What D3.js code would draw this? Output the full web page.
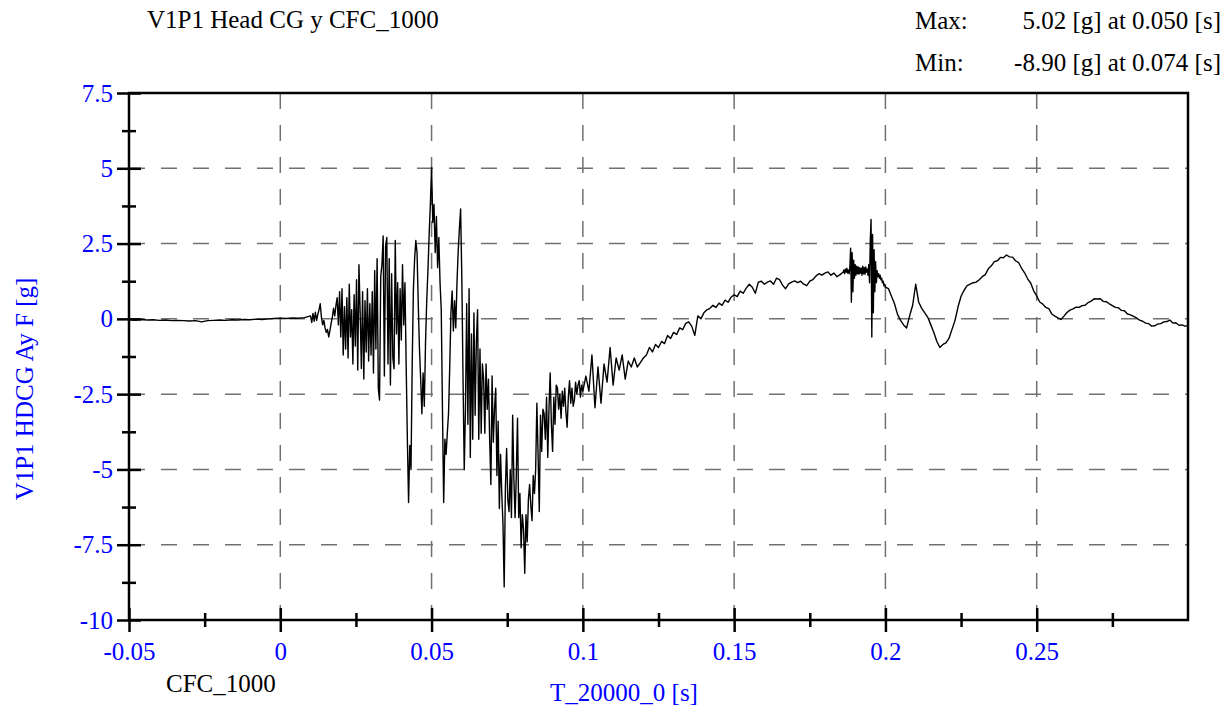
<!DOCTYPE html>
<html>
<head>
<meta charset="utf-8">
<script src="https://cdn.jsdelivr.net/npm/d3@7/dist/d3.min.js"></script>
<style>
  html, body { margin: 0; padding: 0; background: #fff; }
  svg { display: block; }
  text { font-family: "Liberation Serif", "Times New Roman", serif; }
</style>
</head>
<body>
<svg id="chart" width="1231" height="711"></svg>
<script>
// ---------------- data ----------------
const chartTitle = "V1P1 Head CG y CFC_1000";
const yAxisTitle = "V1P1 HDCG Ay F [g]";
const xAxisTitle = "T_20000_0 [s]";
const filterLabel = "CFC_1000";
const statNames = ["Max:", "Min:"];
const statTexts = ["5.02 [g] at 0.050 [s]", "-8.90 [g] at 0.074 [s]"];

const xTickValues = [-0.05, 0, 0.05, 0.1, 0.15, 0.2, 0.25];
const xTickLabels = ["-0.05", "0", "0.05", "0.1", "0.15", "0.2", "0.25"];
const xMinorTicks = [-0.025, 0.025, 0.075, 0.125, 0.175, 0.225, 0.275];
const yTickValues = [7.5, 5, 2.5, 0, -2.5, -5, -7.5, -10];
const yTickLabels = ["7.5", "5", "2.5", "0", "-2.5", "-5", "-7.5", "-10"];
const yMinorTicks = [6.25, 3.75, 1.25, -1.25, -3.75, -6.25, -8.75];
const xGridValues = [0, 0.05, 0.1, 0.15, 0.2, 0.25];
const yGridValues = [5, 2.5, 0, -2.5, -5, -7.5];

// acceleration [g]; sampled -50 .. 8 ms every 2 ms
const preImpactG = [
  -0.03,-0.05,-0.02,-0.04,-0.03,-0.05,-0.04,-0.06,-0.05,-0.06,
  -0.07,-0.06,-0.10,-0.06,-0.05,-0.04,-0.05,-0.03,-0.04,-0.02,
  -0.03,-0.01,-0.02,0.00,0.01,0.02,0.01,0.03,0.02,0.04
];
// 10 .. 100 ms every 0.4 ms
const impactG = [
  0.10,-0.12,0.18,-0.08,0.22,-0.05,0.15,0.30,0.50,0.05,
  -0.20,-0.05,-0.30,-0.45,-0.35,-0.60,-0.40,-0.15,0.05,0.35,
  0.10,0.45,0.70,-0.20,0.90,-0.60,1.00,-1.20,0.40,-1.00,
  0.70,-1.30,1.15,-0.60,0.30,-1.50,0.80,-0.90,1.30,-1.70,
  1.80,0.20,-1.65,0.90,-2.00,0.60,-1.10,1.00,-1.40,0.50,
  -1.20,0.90,-1.80,1.60,-1.00,2.00,-2.30,-2.70,1.40,1.80,
  2.75,-1.90,2.40,2.70,-1.50,2.00,-2.20,1.50,-1.30,-1.66,
  2.60,-0.50,1.20,-1.50,1.00,-0.70,1.80,-0.20,1.20,-1.50,
  -4.00,-6.10,-4.20,-5.00,-1.50,1.00,2.00,2.60,2.20,0.50,
  -1.00,-2.00,-3.15,-1.80,-2.90,-0.80,0.60,1.60,2.80,3.80,
  5.02,3.20,3.80,2.20,3.40,1.70,2.70,1.20,0.30,-3.00,
  -6.10,-4.00,-4.50,-3.80,-3.15,-1.60,0.20,0.93,-0.40,0.60,
  -0.30,1.20,2.25,3.00,3.65,1.35,-2.00,-5.00,-3.00,0.50,
  -3.50,1.00,-4.60,-0.50,-4.00,0.20,-3.20,-0.80,0.30,-4.00,
  -1.00,-3.80,-1.50,-2.00,-3.80,-1.50,-3.00,-2.00,-4.00,-5.50,
  -1.90,-4.10,-3.00,-2.30,-5.20,-3.40,-6.30,-4.50,-5.80,-6.80,
  -8.90,-5.60,-4.30,-6.00,-6.40,-5.00,-6.60,-3.20,-5.30,-6.60,
  -5.20,-3.30,-6.60,-5.80,-7.60,-6.50,-7.00,-8.45,-6.50,-7.40,
  -6.00,-5.50,-6.20,-6.70,-5.20,-5.80,-5.00,-2.80,-4.50,-6.40,
  -3.20,-4.40,-3.00,-3.15,-4.00,-2.60,-4.60,-3.00,-1.80,-3.50,
  -4.40,-2.60,-3.50,-2.20,-2.30,-3.00,-2.50,-3.30,-2.40,-2.90,
  -2.30,-3.10,-3.60,-2.60,-2.05,-2.80,-2.30,-2.90,-2.70,-2.10,
  -2.50,-2.20,-2.05,-2.60,-2.20,-2.40
];
// 101 .. 185 ms every 1 ms
const recoveryG = [
  -1.90,-2.40,-1.20,-2.95,-1.60,-2.80,-1.50,-2.10,-0.95,-2.20,
  -1.30,-1.70,-1.20,-2.00,-1.40,-1.60,-1.30,-1.60,-1.45,-1.30,
  -1.20,-0.95,-1.10,-0.85,-0.95,-0.75,-0.82,-0.55,-0.65,-0.45,
  -0.52,-0.30,-0.36,-0.15,-0.10,-0.25,-0.55,0.10,0.00,0.20,
  0.30,0.35,0.45,0.38,0.52,0.45,0.62,0.55,0.72,0.80,
  0.74,0.92,0.85,1.02,1.15,1.05,0.85,1.22,1.25,1.15,
  1.22,1.26,1.15,1.35,1.30,1.12,1.00,1.16,1.22,1.26,
  1.20,1.25,1.15,1.10,1.25,1.30,1.42,1.50,1.45,1.52,
  1.56,1.45,1.52,1.40,1.47
];
// 186 .. 200 ms every 0.25 ms
const reboundG = [
  1.55,1.62,1.50,1.65,1.55,1.68,1.52,1.62,1.50,1.70,
  2.35,0.55,2.20,0.90,1.95,1.35,1.80,1.45,1.75,1.50,
  1.72,1.48,1.70,1.52,1.68,1.45,1.75,1.50,1.70,1.48,
  1.72,1.55,1.65,1.45,1.80,1.20,2.60,3.30,-0.60,2.80,
  0.20,2.30,0.90,1.90,1.20,1.60,1.40,1.50,1.35,1.45,
  1.30,1.35,1.20,1.25,1.10,1.15,1.05
];
// 201 .. 300 ms every 1 ms
const tailG = [
  1.00,0.75,0.50,0.15,-0.05,-0.20,-0.30,0.10,0.45,1.15,
  0.55,0.35,0.20,0.05,-0.20,-0.45,-0.75,-0.95,-0.85,-0.80,
  -0.65,-0.35,-0.05,0.40,0.75,0.95,1.10,1.15,1.20,1.22,
  1.30,1.40,1.47,1.66,1.76,1.90,1.93,2.04,2.03,2.12,
  2.06,2.05,1.93,1.87,1.68,1.53,1.33,1.19,0.93,0.76,
  0.56,0.49,0.38,0.34,0.16,0.09,0.03,-0.02,0.09,0.21,
  0.29,0.33,0.39,0.38,0.44,0.45,0.54,0.59,0.67,0.66,
  0.67,0.58,0.57,0.50,0.44,0.38,0.37,0.28,0.27,0.16,
  0.13,0.08,0.03,-0.04,-0.08,-0.14,-0.16,-0.24,-0.23,-0.17,
  -0.16,-0.10,-0.09,-0.04,-0.14,-0.13,-0.21,-0.20,-0.24,-0.23
];

// sampling table: start time [ms], step [ms]
const segments = [
  { start: -50, step: 2,    values: preImpactG },
  { start: 10,  step: 0.4,  values: impactG },
  { start: 101, step: 1,    values: recoveryG },
  { start: 186, step: 0.25, values: reboundG },
  { start: 201, step: 1,    values: tailG }
];
const points = segments.flatMap(s =>
  s.values.map((v, i) => ({ t: (s.start + i * s.step) / 1000, v })));

// ---------------- drawing ----------------
const blue = "#0000ff";
const svg = d3.select("#chart");
const L = 129, R = 1188, T = 93, B = 620;

const x = d3.scaleLinear().domain([-0.05, 0.30]).range([L, R]);
const y = d3.scaleLinear().domain([-10, 7.5]).range([B, T]);

// grid
const grid = svg.append("g").attr("stroke", "#707070").attr("stroke-width", 1.5)
  .attr("stroke-dasharray", "16,16");
grid.selectAll("line.v").data(xGridValues).join("line").attr("class", "v")
  .attr("x1", d => x(d)).attr("x2", d => x(d)).attr("y1", T).attr("y2", B);
grid.selectAll("line.h").data(yGridValues).join("line").attr("class", "h")
  .attr("y1", d => y(d)).attr("y2", d => y(d)).attr("x1", L).attr("x2", R);

// data line
svg.append("clipPath").attr("id", "clip").append("rect")
  .attr("x", L).attr("y", T).attr("width", R - L).attr("height", B - T);
const line = d3.line().x(d => x(d.t)).y(d => y(d.v));
svg.append("path").datum(points)
  .attr("clip-path", "url(#clip)")
  .attr("fill", "none").attr("stroke", "#000").attr("stroke-width", 1.4)
  .attr("stroke-linejoin", "round")
  .attr("d", line);

// frame
svg.append("rect").attr("x", L).attr("y", T).attr("width", R - L).attr("height", B - T)
  .attr("fill", "none").attr("stroke", "#000").attr("stroke-width", 2.5);

// axes
function styleAxis(g, inner, horizontal) {
  g.select(".domain").remove();
  g.selectAll(".tick line").attr("stroke", "#000").attr("stroke-width", 2.5);
  if (horizontal) g.selectAll(".tick line").attr("y1", -inner);
  else g.selectAll(".tick line").attr("x1", inner);
  g.selectAll(".tick text").attr("fill", blue)
    .style("font-family", "'Liberation Serif', 'Times New Roman', serif")
    .style("font-size", "25px");
}
const yAxis = d3.axisLeft(y).tickValues(yTickValues)
  .tickFormat((d, i) => yTickLabels[i]).tickSize(12).tickPadding(4);
svg.append("g").attr("transform", `translate(${L},0)`).call(yAxis)
  .call(g => styleAxis(g, 12, false));
const yMinor = d3.axisLeft(y).tickValues(yMinorTicks).tickFormat("").tickSize(7);
svg.append("g").attr("transform", `translate(${L},0)`).call(yMinor)
  .call(g => styleAxis(g, 7, false));

const xAxis = d3.axisBottom(x).tickValues(xTickValues)
  .tickFormat((d, i) => xTickLabels[i]).tickSize(12).tickPadding(10);
svg.append("g").attr("transform", `translate(0,${B})`).call(xAxis)
  .call(g => styleAxis(g, 12, true));
const xMinor = d3.axisBottom(x).tickValues(xMinorTicks).tickFormat("").tickSize(7);
svg.append("g").attr("transform", `translate(0,${B})`).call(xMinor)
  .call(g => styleAxis(g, 7, true));

// texts
const fs = "25px";
svg.append("text").attr("x", 147).attr("y", 28).attr("font-size", fs)
  .attr("fill", "#000").text(chartTitle);
statNames.forEach((n, i) => {
  svg.append("text").attr("x", 915).attr("y", 29 + i * 42).attr("font-size", fs)
    .attr("fill", "#000").text(n);
  svg.append("text").attr("x", 1221).attr("y", 29 + i * 42).attr("font-size", fs)
    .attr("text-anchor", "end").attr("fill", "#000").text(statTexts[i]);
});
svg.append("text").attr("x", 166).attr("y", 692).attr("font-size", fs)
  .attr("fill", "#000").text(filterLabel);
svg.append("text").attr("x", 624).attr("y", 701).attr("font-size", fs)
  .attr("text-anchor", "middle").attr("fill", blue).text(xAxisTitle);
svg.append("text").attr("transform", "translate(33,389) rotate(-90)")
  .attr("font-size", fs).attr("text-anchor", "middle").attr("fill", blue)
  .text(yAxisTitle);
</script>
</body>
</html>
